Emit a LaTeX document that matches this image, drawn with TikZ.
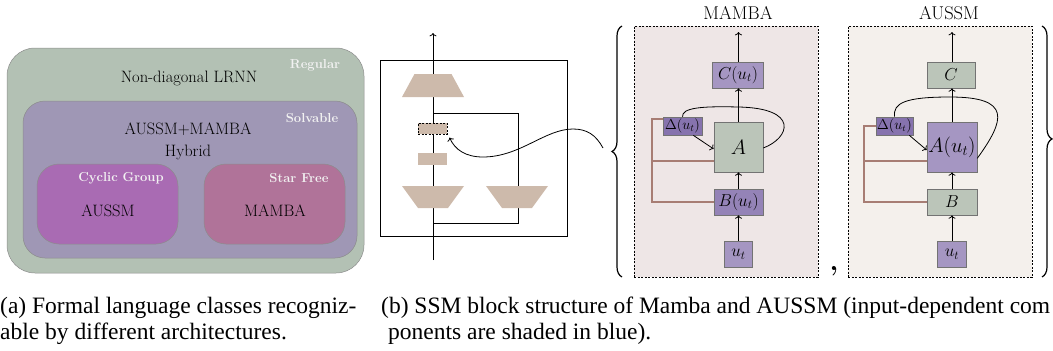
\documentclass[tikz,border=0pt]{standalone}
\usepackage{fontspec}
\newfontfamily\capfont{Liberation Serif}
\usetikzlibrary{arrows.meta,decorations.pathreplacing}
\definecolor{regc}{HTML}{B3C1B4}
\definecolor{solc}{HTML}{9F97B5}
\definecolor{cycc}{HTML}{A96BB3}
\definecolor{starc}{HTML}{B07399}
\definecolor{tanc}{HTML}{CDBAAB}
\definecolor{mbg}{HTML}{EEE6E6}
\definecolor{abg}{HTML}{F4F0EC}
\definecolor{ppl}{HTML}{A596C2}
\definecolor{dpl}{HTML}{8673AE}
\definecolor{grn}{HTML}{BBC5B9}
\definecolor{brn}{HTML}{A77D74}
\definecolor{lbl}{HTML}{F2F2F2}
\begin{document}
\begin{tikzpicture}[x=1pt,y=-1pt,
  region/.style={draw=black!45, line width=0.5pt, inner sep=0pt},
  lbltext/.style={text=lbl, font=\bfseries\fontsize{13}{15}\selectfont, inner sep=0pt},
  maintext/.style={font=\fontsize{16.5}{19}\selectfont, inner sep=0pt},
  tanshape/.style={fill=tanc},
  ssmbox/.style={draw=black!55, line width=0.6pt, inner sep=0pt},
  bgbox/.style={draw=black, line width=1pt, dash pattern=on 2pt off 1.5pt, inner sep=0pt, minimum width=184pt, minimum height=251pt},
  arr/.style={->, line width=0.8pt},
  brline/.style={draw=brn, line width=1.2pt},
  brc/.style={decorate, decoration={brace, amplitude=10pt, aspect=#1}, line width=1.2pt},
  captext/.style={anchor=base west, font=\capfont\fontsize{23.5}{26}\selectfont, inner sep=0pt}
]
\useasboundingbox (0,0) rectangle (1053,351);

% ---------- panel (a)
\node[region, fill=regc, rounded corners=28pt, minimum width=357pt, minimum height=225pt] (reg) at (185.5,160.5) {};
\node[region, fill=solc, rounded corners=22pt, minimum width=334pt, minimum height=157pt] (sol) at (190,179.5) {};
\node[region, fill=cycc, rounded corners=22pt, minimum width=141pt, minimum height=80pt] (cyc) at (107.5,204) {};
\node[region, fill=starc, rounded corners=22pt, minimum width=141pt, minimum height=80pt] (star) at (274.5,204) {};
\node[lbltext] (tReg) at (315,65) {Regular};
\node[maintext] (tLRNN) at (189,78) {Non-diagonal LRNN};
\node[lbltext] (tSol) at (312,118) {Solvable};
\node[maintext] (tHyb1) at (188,129) {AUSSM+MAMBA};
\node[maintext] (tHyb2) at (188,152) {Hybrid};
\node[lbltext] (tCyc) at (121,178) {Cyclic Group};
\node[maintext] (tAussm) at (108,211) {AUSSM};
\node[lbltext] (tStar) at (299,178) {Star Free};
\node[maintext] (tMamba) at (275,211) {MAMBA};

% ---------- panel (b) left block
\node[draw, line width=1pt, minimum width=187pt, minimum height=176pt, inner sep=0pt] (blk) at (473.5,148) {};
\coordinate (bot) at (433,260);
\coordinate (top) at (433,33);
\draw[arr] (bot) -- (top);
\coordinate (l1) at (433,113);
\coordinate (l2) at (518,113);
\coordinate (l3) at (518,223);
\coordinate (l4) at (433,223);
\draw[line width=1pt] (l1) -- (l2) -- (l3) -- (l4);
\fill[tanshape] (414.5,74) -- (451.5,74) -- (464,97) -- (402,97) -- cycle;
\fill[tanshape] (402,186) -- (464,186) -- (448,208) -- (418,208) -- cycle;
\fill[tanshape] (486,186) -- (548,186) -- (532,208) -- (502,208) -- cycle;
\node[fill=tanc, draw=black, line width=1pt, dash pattern=on 2pt off 1.5pt, minimum width=29pt, minimum height=11pt, inner sep=0pt] (dsh) at (432.5,128.5) {};
\node[fill=tanc, minimum width=29pt, minimum height=12pt, inner sep=0pt] (smr) at (432.5,159) {};
\coordinate (cs) at (603,148);
\coordinate (cp) at (573,129);
\coordinate (cl) at (483,157);
\draw[arr] (cs) .. controls (596,135) and (587,129) .. (cp) .. controls (545,129) and (520,157) .. (cl) .. controls (466,157) and (455,150) .. ([xshift=2pt,yshift=-3pt]dsh.south east);

% ---------- braces and titles
\draw[brc=0.5] (622,277) -- (622,26);
\draw[brc=0.45] (1042,26) -- (1042,277);
\node[font=\fontsize{18.5}{20}\selectfont, inner sep=0pt] (ttlM) at (738,13) {MAMBA};
\node[font=\fontsize{18.5}{20}\selectfont, inner sep=0pt] (ttlA) at (949,13) {AUSSM};
\node[font=\bfseries\fontsize{28}{30}\selectfont, inner sep=0pt, anchor=base] (comma) at (834,270) {,};

% ---------- MAMBA block
\node[bgbox, fill=mbg] (mB) at (726,151.5) {};
\node[ssmbox, fill=ppl, minimum width=51pt, minimum height=26pt, font=\fontsize{16.5}{18}\selectfont] (mC) at (738,75) {$C(u_t)$};
\node[ssmbox, fill=grn, minimum width=49pt, minimum height=50pt, font=\fontsize{21}{23}\selectfont] (mA) at (738.5,147) {$A$};
\node[ssmbox, fill=dpl, minimum width=39pt, minimum height=18pt, font=\fontsize{14}{16}\selectfont] (mD) at (682.5,126) {$\Delta(u_t)$};
\node[ssmbox, fill=dpl!55!ppl, minimum width=49pt, minimum height=26pt, font=\fontsize{16.5}{18}\selectfont] (mBx) at (738.5,202) {$B(u_t)$};
\node[ssmbox, fill=ppl, minimum width=28pt, minimum height=26pt, font=\fontsize{17}{18}\selectfont] (mU) at (738.5,254) {$u_t$};
\coordinate (mOut) at (738.5,32);
\draw[arr] (mU.north) -- (mBx.south);
\draw[arr] (mBx.north) -- (mA.south);
\draw[arr] (mA.north) -- (mC.south -| mA.north);
\draw[arr] (mC.north -| mA.north) -- (mOut);
\draw[line width=0.8pt] ([yshift=-1pt]mA.east) .. controls (790,138) and (800,108) .. (738,107) .. controls (700,106) and (682,108) .. (mD.north);
\draw[arr] ([xshift=-9pt]mD.south east) -- ([yshift=-2pt]mA.west);
\coordinate (mK1) at (652,119);
\coordinate (mK2) at (652,161);
\coordinate (mK3) at (652,202);
\draw[brline] ([yshift=7pt]mD.west) -- (mK1) -- (mK3) -- (mBx.west);
\draw[brline] (mK2) -- (mA.west |- mK2);

% ---------- AUSSM block
\node[bgbox, fill=abg] (aB) at (940,151.5) {};
\node[ssmbox, fill=grn, minimum width=48pt, minimum height=26pt, font=\fontsize{17}{18}\selectfont] (aC) at (951,75) {$C$};
\node[ssmbox, fill=ppl, minimum width=50pt, minimum height=50pt, font=\fontsize{20}{22}\selectfont] (aA) at (952,147) {$A(u_t)$};
\node[ssmbox, fill=dpl, minimum width=37pt, minimum height=18pt, font=\fontsize{13.5}{15}\selectfont] (aD) at (894.5,126) {$\Delta(u_t)$};
\node[ssmbox, fill=grn, minimum width=50pt, minimum height=26pt, font=\fontsize{19}{20}\selectfont] (aBx) at (952,202) {$B$};
\node[ssmbox, fill=ppl, minimum width=29pt, minimum height=26pt, font=\fontsize{17}{18}\selectfont] (aU) at (952,254) {$u_t$};
\coordinate (aOut) at (952,32);
\draw[arr] (aU.north) -- (aBx.south);
\draw[arr] (aBx.north) -- (aA.south);
\draw[arr] (aA.north) -- (aC.south -| aA.north);
\draw[arr] (aC.north -| aA.north) -- (aOut);
\draw[line width=0.8pt] ([yshift=14pt]aA.south east) .. controls (1005,120) and (1012,97) .. (950,97) .. controls (905,97) and (893,103) .. (aD.north);
\draw[arr] ([xshift=-4pt]aD.south east) -- ([yshift=-3pt]aA.west);
\coordinate (aK1) at (864,126);
\coordinate (aK2) at (864,161);
\coordinate (aK3) at (864,202);
\draw[brline] (aD.west) -- (aK1) -- (aK3) -- (aBx.west);
\draw[brline] (aK2) -- (aA.west |- aK2);

% ---------- captions
\node[captext] (capa1) at (0,313) {(a) Formal language classes recogniz-};
\node[captext] (capa2) at (0,339) {able by different architectures.};
\node[captext] (capb1) at (381,313) {(b) SSM block structure of Mamba and AUSSM (input-dependent com};
\node[captext] (capb2) at (388,339) {ponents are shaded in blue).};
\end{tikzpicture}
\end{document}
